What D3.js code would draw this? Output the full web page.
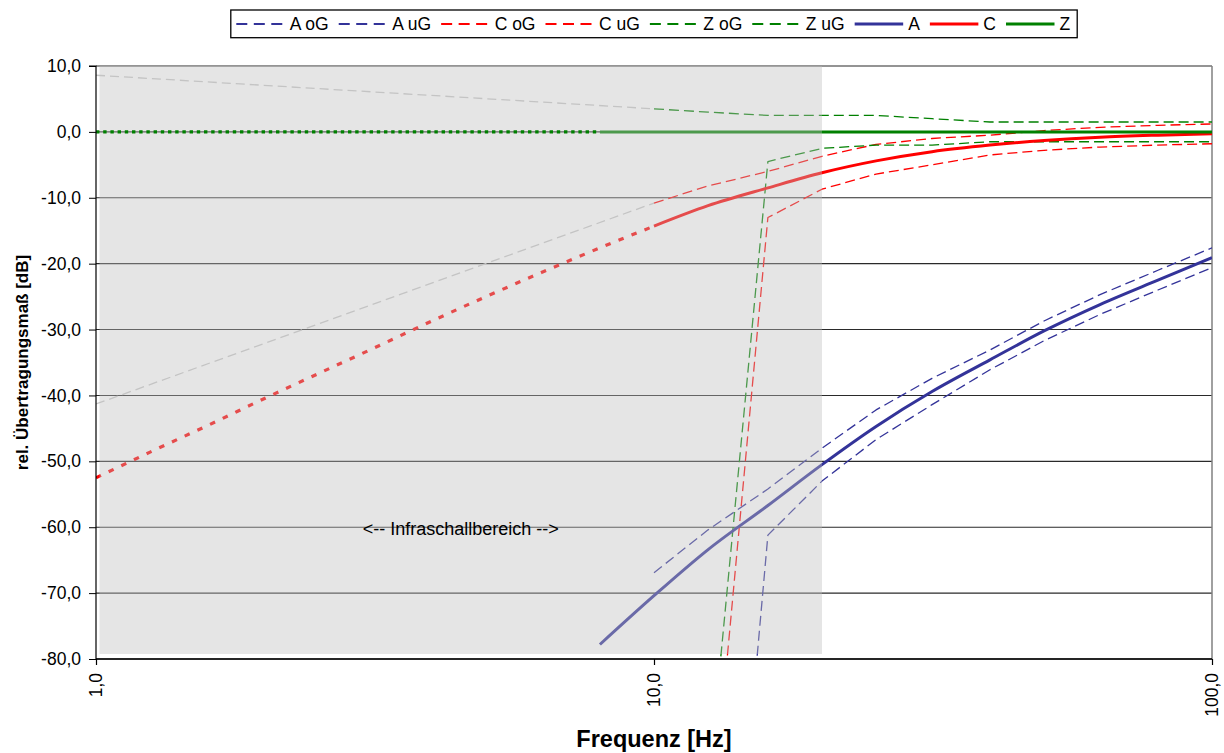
<!DOCTYPE html>
<html>
<head>
<meta charset="utf-8">
<script src="https://cdn.jsdelivr.net/npm/d3@7"></script>
<style>
  body { margin: 0; background: #fff; }
  svg text { font-family: Arial, "Liberation Sans", sans-serif; fill: #000; }
</style>
</head>
<body>
<svg id="chart" width="1224" height="753"></svg>
<script>
// Third-octave band centre frequencies (Hz)
const freqHz = [8, 10, 12.5, 16, 20, 25, 31.5, 40, 50, 63, 80, 100];

// Frequency weightings (dB)
const levelA = [-77.8, -70.4, -63.4, -56.7, -50.5, -44.7, -39.4, -34.6, -30.2, -26.2, -22.5, -19.1];
const levelC = [null, -14.3, -11.2, -8.5, -6.2, -4.4, -3.0, -2.0, -1.3, -0.8, -0.5, -0.3];
const levelZ = [0, 0, 0, 0, 0, 0, 0, 0, 0, 0, 0, 0];

// Upper (oG) and lower (uG) tolerance limits (dB)
const aUpper = [null, -66.9, -60.4, -54.2, -48.0, -42.2, -37.4, -33.1, -28.7, -24.7, -21.0, -17.6];
const aLower = [null, null, -163.4, -61.2, -53.0, -46.7, -41.4, -36.1, -31.7, -27.7, -24.0, -20.6];
const cUpper = [null, -10.8, -8.2, -6.0, -3.7, -1.9, -1.0, -0.5, 0.2, 0.7, 1.0, 1.2];
const cLower = [null, null, -111.2, -13.0, -8.7, -6.4, -5.0, -3.5, -2.8, -2.3, -2.0, -1.8];
const zUpper = [null, 3.5, 3.0, 2.5, 2.5, 2.5, 2.0, 1.5, 1.5, 1.5, 1.5, 1.5];
const zLower = [null, null, -100, -4.5, -2.5, -2.0, -2.0, -1.5, -1.5, -1.5, -1.5, -1.5];

// Continuation into the infrasound range
const infraFreqHz = [1, 1.25, 1.6, 2, 2.5, 3.15, 4, 5, 6.3, 8, 10];
const infraC = [-52.5, -48.6, -44.4, -40.5, -36.7, -32.8, -28.7, -25.0, -21.3, -17.6, -14.3];
const infraZ = [0, 0, 0, 0, 0, 0, 0, 0, 0, 0, null];

// Grey guide lines below 10 Hz
const guideFreqHz = [1, 10];
const guideUpper = [8.6, 3.5];
const guideLower = [-41.3, -10.8];

// Infrasound band shown as shaded region
const infraBandHz = [1, 20];

// Axis ticks
const xTicks = [1, 10, 100];
const yTicks = [-80, -70, -60, -50, -40, -30, -20, -10, 0, 10];

const legendLabels = ["A oG", "A uG", "C oG", "C uG", "Z oG", "Z uG", "A", "C", "Z"];

const BLUE = "#333399", RED = "#ff0000", GREEN = "#008000";

const svg = d3.select("#chart");
const plot = { left: 96, right: 1212, top: 66, bottom: 659 };

const x = d3.scaleLog().domain([1, 100]).range([plot.left, plot.right]);
const y = d3.scaleLinear().domain([-80, 10]).range([plot.bottom, plot.top]);

const de = d3.formatLocale({ decimal: ",", thousands: ".", grouping: [3], currency: ["", " €"], minus: "-" });
const fmt = de.format(".1f");

// clip region for the curves
svg.append("defs").append("clipPath").attr("id", "plotClip")
  .append("rect")
  .attr("x", plot.left).attr("y", plot.top)
  .attr("width", plot.right - plot.left).attr("height", plot.bottom - plot.top);

// horizontal gridlines
svg.append("g").selectAll("line").data(yTicks).join("line")
  .attr("x1", plot.left).attr("x2", plot.right)
  .attr("y1", d => y(d)).attr("y2", d => y(d))
  .attr("stroke", "#2a2a2a").attr("stroke-width", 1.1);

// right frame edge
svg.append("line")
  .attr("x1", plot.right).attr("x2", plot.right)
  .attr("y1", plot.top).attr("y2", plot.bottom)
  .attr("stroke", "#808080").attr("stroke-width", 1.5);

const lineStraight = d3.line()
  .defined(d => d[1] !== null)
  .x(d => x(d[0]))
  .y(d => y(d[1]));
const lineSmooth = d3.line()
  .defined(d => d[1] !== null)
  .x(d => x(d[0]))
  .y(d => y(d[1]))
  .curve(d3.curveMonotoneX);

const zipXY = (xs, ys) => xs.map((f, i) => [f, ys[i]]);

const series = [
  { xs: guideFreqHz, ys: guideUpper, color: "#c8c8c8", width: 1.3, dash: "9,5" },
  { xs: guideFreqHz, ys: guideLower, color: "#c8c8c8", width: 1.3, dash: "9,5" },
  { xs: infraFreqHz, ys: infraC, color: RED, width: 3.2, dash: "5.5,8.5", smooth: true },
  { xs: freqHz, ys: aUpper, color: BLUE, width: 1.3, dash: "10,5" },
  { xs: freqHz, ys: aLower, color: BLUE, width: 1.3, dash: "10,5" },
  { xs: freqHz, ys: cUpper, color: RED, width: 1.3, dash: "10,5" },
  { xs: freqHz, ys: cLower, color: RED, width: 1.3, dash: "10,5" },
  { xs: freqHz, ys: zUpper, color: GREEN, width: 1.3, dash: "10,5" },
  { xs: freqHz, ys: zLower, color: GREEN, width: 1.3, dash: "10,5" },
  { xs: freqHz, ys: levelA, color: BLUE, width: 3, dash: null, smooth: true },
  { xs: freqHz, ys: levelC, color: RED, width: 3, dash: null, smooth: true },
  { xs: freqHz, ys: levelZ, color: GREEN, width: 3, dash: null, smooth: true }
];

const drawSeries = (parent, list) => parent.append("g").attr("clip-path", "url(#plotClip)")
  .selectAll("path").data(list).join("path")
  .attr("d", s => (s.smooth ? lineSmooth : lineStraight)(zipXY(s.xs, s.ys)))
  .attr("fill", "none")
  .attr("stroke", s => s.color)
  .attr("stroke-width", s => s.width)
  .attr("stroke-dasharray", s => s.dash)
  .attr("stroke-linejoin", "round");

drawSeries(svg, series);

// shaded infrasound band (translucent, lies over the curves)
svg.append("rect")
  .attr("x", x(infraBandHz[0]) + 3.5)
  .attr("y", y(10))
  .attr("width", x(infraBandHz[1]) - x(infraBandHz[0]) - 3.5)
  .attr("height", y(-80) - y(10) - 5)
  .attr("fill", "#bebebe").attr("fill-opacity", 0.4);

// dotted zero line through the infrasound band
drawSeries(svg, [{ xs: infraFreqHz, ys: infraZ, color: GREEN, width: 3.2, dash: "3.4,3.8" }]);

svg.append("text")
  .attr("x", (x(infraBandHz[0]) + 3.5 + x(infraBandHz[1])) / 2)
  .attr("y", y(-60.3))
  .attr("dy", "0.35em")
  .attr("text-anchor", "middle")
  .attr("font-size", 18)
  .text("<-- Infraschallbereich -->");

// y axis
const yAxis = svg.append("g")
  .attr("transform", `translate(${plot.left},0)`)
  .call(d3.axisLeft(y).tickValues(yTicks).tickFormat(fmt).tickSize(7).tickPadding(8));
yAxis.select(".domain").attr("stroke", "#000").attr("stroke-width", 1.2).attr("d", `M-7,${plot.top}H0V${plot.bottom}`);
yAxis.selectAll(".tick line").attr("stroke", "#000");
yAxis.selectAll(".tick text").attr("font-size", 17.5).attr("font-family", "Arial, 'Liberation Sans', sans-serif");

// x axis
const xAxis = svg.append("g")
  .attr("transform", `translate(0,${plot.bottom})`)
  .call(d3.axisBottom(x).tickValues(xTicks).tickFormat(fmt).tickSize(6));
xAxis.select(".domain").attr("stroke", "#000").attr("stroke-width", 1.5).attr("d", `M${plot.left},0H${plot.right}`);
xAxis.selectAll(".tick line").attr("stroke", "#000").attr("stroke-width", 1.2);
xAxis.selectAll(".tick text")
  .attr("font-size", 17.5)
  .attr("font-family", "Arial, 'Liberation Sans', sans-serif")
  .attr("transform", "rotate(-90)")
  .attr("text-anchor", "end")
  .attr("x", -14).attr("y", 0).attr("dy", "0.3em");

// axis titles
svg.append("text")
  .attr("x", (plot.left + plot.right) / 2).attr("y", 747)
  .attr("text-anchor", "middle")
  .attr("font-size", 23.5).attr("font-weight", "bold")
  .text("Frequenz [Hz]");

svg.append("text")
  .attr("transform", `translate(28,${(plot.top + plot.bottom) / 2}) rotate(-90)`)
  .attr("text-anchor", "middle")
  .attr("font-size", 17).attr("font-weight", "bold")
  .text("rel. Übertragungsmaß [dB]");

// legend
const legendStyles = series.slice(3);
const legend = svg.append("g");
const legendBox = legend.append("rect")
  .attr("y", 10).attr("height", 27.7)
  .attr("fill", "#fff").attr("stroke", "#000").attr("stroke-width", 1.3);
const items = legend.append("g");
let cursor = 5.5;
legendLabels.forEach((lab, i) => {
  const st = legendStyles[i];
  const g = items.append("g");
  g.append("line")
    .attr("x1", cursor).attr("x2", cursor + 48.5)
    .attr("y1", 24).attr("y2", 24)
    .attr("stroke", st.color)
    .attr("stroke-width", st.dash ? 1.8 : 3)
    .attr("stroke-dasharray", st.dash ? "11,6.5" : null);
  const t = g.append("text")
    .attr("x", cursor + 53.5).attr("y", 30.3)
    .attr("font-size", 17.5)
    .text(lab);
  cursor += 53.5 + t.node().getComputedTextLength() + 10;
});
const legendWidth = cursor - 10 + 7;
const legendLeft = (plot.left + plot.right) / 2 - legendWidth / 2;
legendBox.attr("x", legendLeft).attr("width", legendWidth);
items.attr("transform", `translate(${legendLeft},0)`);
</script>
</body>
</html>
